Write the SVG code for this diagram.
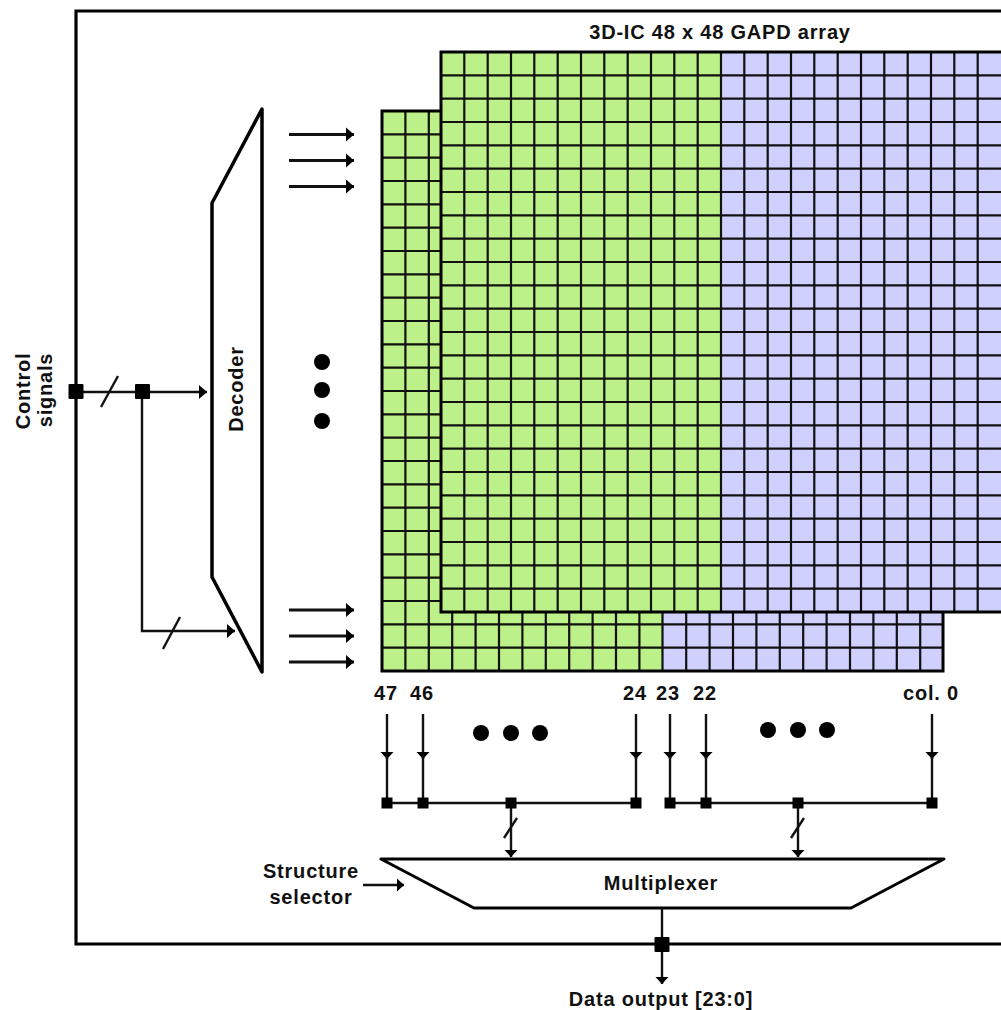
<svg xmlns="http://www.w3.org/2000/svg" width="1001" height="1010" viewBox="0 0 1001 1010">
<style>
text{font-family:"Liberation Sans",Arial,sans-serif;font-weight:bold;font-size:20px;letter-spacing:.8px;fill:#111;text-anchor:middle}
.grid{fill:none;stroke:#111;stroke-width:2.2}
.out{fill:none;stroke:#000;stroke-width:3.2}
.shape{fill:#fff;stroke:#000;stroke-width:3.5;stroke-linejoin:round}
.wire{fill:none;stroke:#111;stroke-width:2.4}
.thick{fill:none;stroke:#111;stroke-width:3}
</style>
<defs>
<marker id="ah" markerUnits="userSpaceOnUse" markerWidth="10" markerHeight="16" refX="9" refY="8" orient="auto"><path d="M1 1L9 8L1 15Z" fill="#000"/></marker>
<marker id="ad" markerUnits="userSpaceOnUse" markerWidth="9" markerHeight="16" refX="8" refY="8" orient="auto"><path d="M1 1.500L8 8L1 14.500Z" fill="#000"/></marker>
</defs>
<rect width="1001" height="1010" fill="#fff"/>
<path id="frame" class="out" d="M1001 11H76V944H1001"/>

<g id="back-array">
<rect x="382" y="111" width="280.5" height="560" fill="#bcf088"/>
<rect x="662.5" y="111" width="280.5" height="560" fill="#d0d0ff"/>
<path class="grid" d="M405.4 111V671M428.8 111V671M452.2 111V671M475.6 111V671M499 111V671M522.4 111V671M545.8 111V671M569.2 111V671M592.6 111V671M616 111V671M639.4 111V671M662.5 111V671M686.2 111V671M709.6 111V671M733 111V671M756.4 111V671M779.8 111V671M803.2 111V671M826.6 111V671M850 111V671M873.4 111V671M896.8 111V671M920.2 111V671M382 134.3H943M382 157.7H943M382 181H943M382 204.3H943M382 227.7H943M382 251H943M382 274.3H943M382 297.7H943M382 321H943M382 344.3H943M382 367.7H943M382 391H943M382 414.3H943M382 437.7H943M382 461H943M382 484.3H943M382 507.7H943M382 531H943M382 554.3H943M382 577.7H943M382 601H943M382 624.3H943M382 647.7H943"/>
<rect x="382" y="111" width="561" height="560" fill="none" stroke="#000" stroke-width="3"/>
</g>

<g id="front-array">
<rect x="441" y="52" width="280" height="560" fill="#bcf088"/>
<rect x="721" y="52" width="280" height="560" fill="#d0d0ff"/>
<path class="grid" d="M464.3 52V612M487.7 52V612M511 52V612M534.3 52V612M557.7 52V612M581 52V612M604.3 52V612M627.7 52V612M651 52V612M674.3 52V612M697.7 52V612M721 52V612M744.3 52V612M767.7 52V612M791 52V612M814.3 52V612M837.7 52V612M861 52V612M884.3 52V612M907.7 52V612M931 52V612M954.3 52V612M977.7 52V612M441 75.3H1001M441 98.7H1001M441 122H1001M441 145.3H1001M441 168.7H1001M441 192H1001M441 215.3H1001M441 238.7H1001M441 262H1001M441 285.3H1001M441 308.7H1001M441 332H1001M441 355.3H1001M441 378.7H1001M441 402H1001M441 425.3H1001M441 448.7H1001M441 472H1001M441 495.3H1001M441 518.7H1001M441 542H1001M441 565.3H1001M441 588.7H1001"/>
<path d="M1001 52H441V612H1001" fill="none" stroke="#000" stroke-width="3"/>
</g>
<text id="array-title" x="720" y="38.500">3D-IC 48 x 48 GAPD array</text>

<g id="decoder">
<polygon class="shape" points="262,109 212,203 212,577 262,672"/>
<text transform="translate(243 389) rotate(-90)">Decoder</text>
</g>

<g id="multiplexer">
<polygon class="shape" style="stroke-width:3" points="381,859 944,859 851,908 474,908"/>
<text x="661" y="890">Multiplexer</text>
</g>

<g id="connectors">
<path class="wire" d="M76 392H207" marker-end="url(#ah)"/>
<path class="wire" d="M101 407L118 376"/>
<path class="wire" d="M142 392V631H235" marker-end="url(#ah)"/>
<path class="wire" d="M163 649L180 617"/>
<path class="thick" d="M289 134.500H354" marker-end="url(#ah)"/>
<path class="thick" d="M289 160.500H354" marker-end="url(#ah)"/>
<path class="thick" d="M289 186.500H354" marker-end="url(#ah)"/>
<path class="thick" d="M289 610H354" marker-end="url(#ah)"/>
<path class="thick" d="M289 636H354" marker-end="url(#ah)"/>
<path class="thick" d="M289 662H354" marker-end="url(#ah)"/>
<g id="column-lines">
<path class="wire" d="M387 714V759" marker-end="url(#ad)"/><path class="wire" d="M387 755V803"/>
<path class="wire" d="M423 714V759" marker-end="url(#ad)"/><path class="wire" d="M423 755V803"/>
<path class="wire" d="M636 714V759" marker-end="url(#ad)"/><path class="wire" d="M636 755V803"/>
<path class="wire" d="M670 714V759" marker-end="url(#ad)"/><path class="wire" d="M670 755V803"/>
<path class="wire" d="M706 714V759" marker-end="url(#ad)"/><path class="wire" d="M706 755V803"/>
<path class="wire" d="M932 714V759" marker-end="url(#ad)"/><path class="wire" d="M932 755V803"/>
</g>
<path class="wire" d="M387 803H636M670 803H932"/>
<path class="wire" d="M511 803V857" marker-end="url(#ad)"/>
<path class="wire" d="M504 838L517 818"/>
<path class="wire" d="M798 803V857" marker-end="url(#ad)"/>
<path class="wire" d="M791 838L804 818"/>
<path class="wire" d="M363 885H404" marker-end="url(#ad)"/>
<path class="wire" d="M662 908V984" marker-end="url(#ad)"/>
</g>

<g id="junctions" fill="#000">
<rect x="68.500" y="384" width="15" height="15" rx="1"/>
<rect x="135" y="384" width="15" height="15" rx="1"/>
<rect x="654.500" y="937" width="15" height="15" rx="1"/>
<rect x="381.500" y="797.500" width="11" height="11"/>
<rect x="417.500" y="797.500" width="11" height="11"/>
<rect x="505.500" y="797.500" width="11" height="11"/>
<rect x="630.500" y="797.500" width="11" height="11"/>
<rect x="664.500" y="797.500" width="11" height="11"/>
<rect x="700.500" y="797.500" width="11" height="11"/>
<rect x="792.500" y="797.500" width="11" height="11"/>
<rect x="926.500" y="797.500" width="11" height="11"/>
</g>

<g id="ellipsis" fill="#000">
<circle cx="322" cy="362" r="8"/><circle cx="322" cy="390" r="8"/><circle cx="322" cy="421" r="8"/>
<circle cx="481" cy="733" r="8"/><circle cx="511" cy="733" r="8"/><circle cx="540" cy="733" r="8"/>
<circle cx="768" cy="730" r="8"/><circle cx="798" cy="730" r="8"/><circle cx="827" cy="730" r="8"/>
</g>

<g id="labels">
<text transform="translate(29.500 391) rotate(-90)">Control</text>
<text transform="translate(51.500 390) rotate(-90)">signals</text>
<text x="386" y="700">47</text>
<text x="422" y="700">46</text>
<text x="635" y="700">24</text>
<text x="668" y="700">23</text>
<text x="705" y="700">22</text>
<text x="931" y="700">col. 0</text>
<text x="311" y="878">Structure</text>
<text x="311" y="904">selector</text>
<text x="661" y="1006">Data output [23:0]</text>
</g>
</svg>
